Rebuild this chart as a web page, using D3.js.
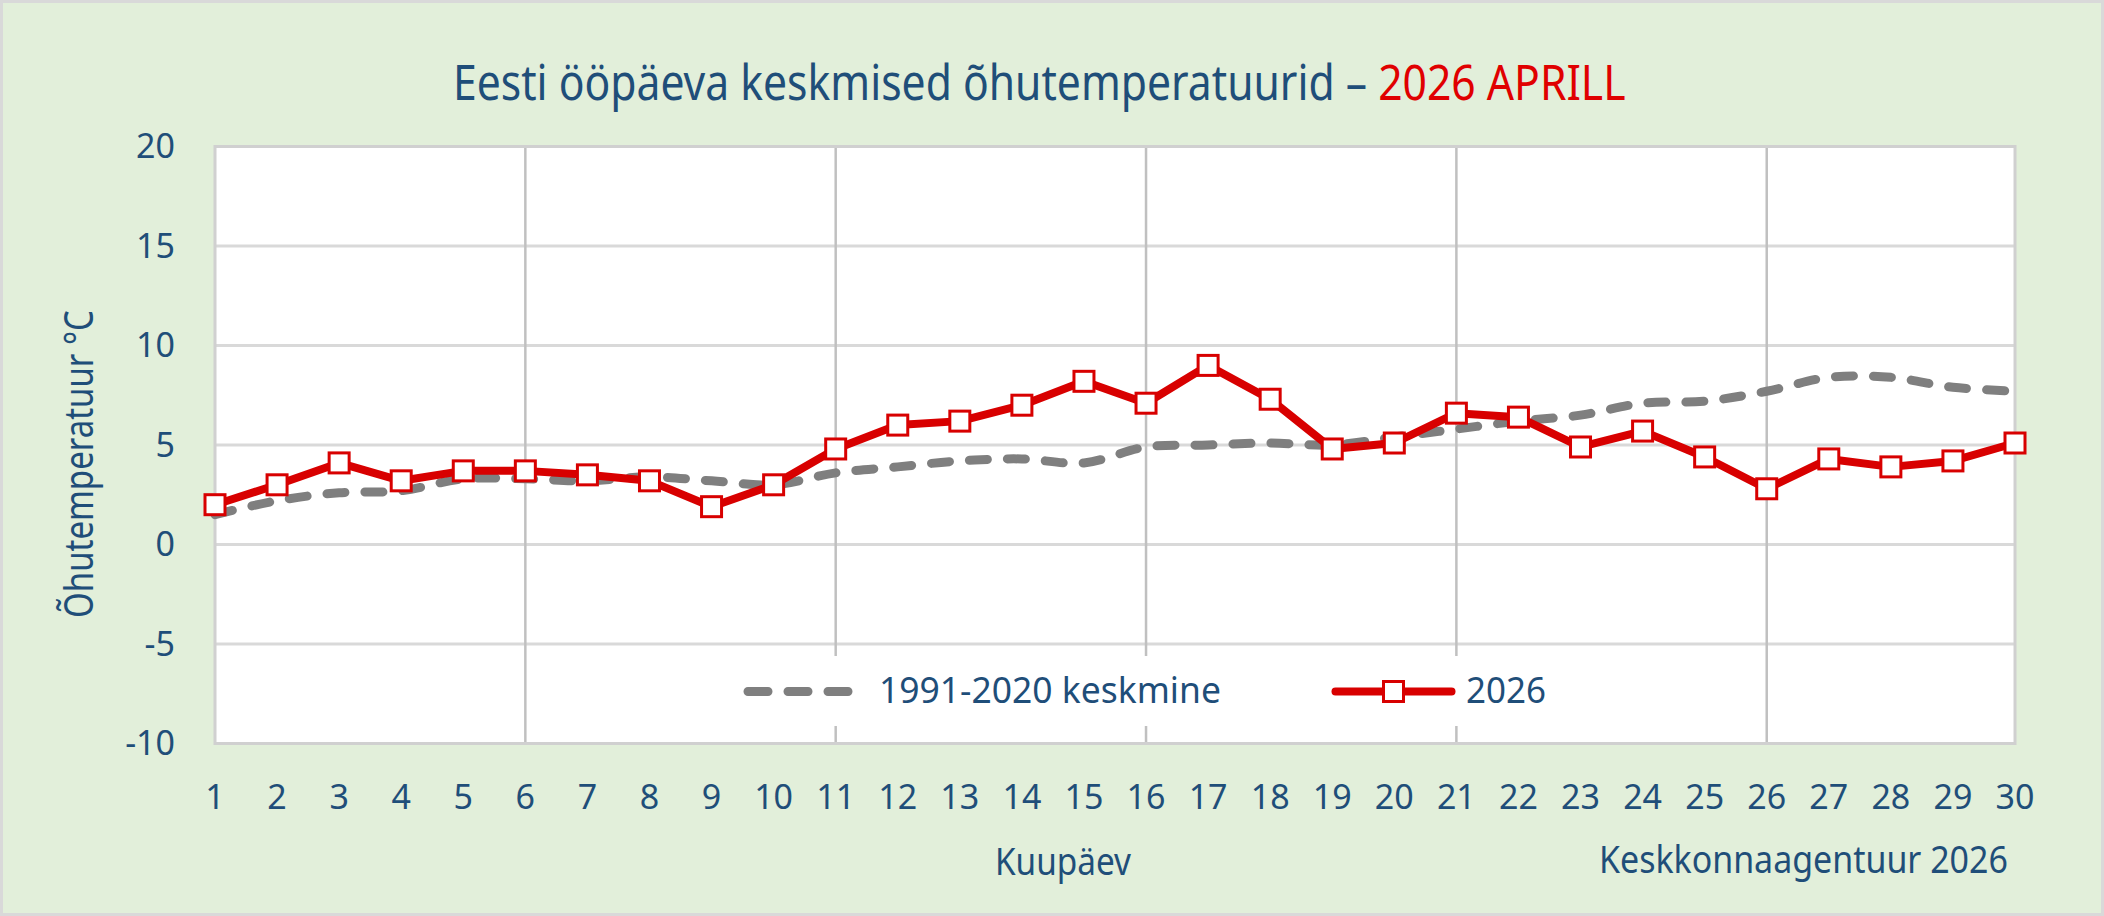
<!DOCTYPE html>
<html>
<head>
<meta charset="utf-8">
<script src="https://cdn.jsdelivr.net/npm/d3@7"></script>
<style>
  html, body { margin: 0; padding: 0; background: #fff; }
  svg { display: block; }
  text { font-family: "Noto Sans", "Open Sans", sans-serif; fill: #1f4e79; }
</style>
</head>
<body>
<svg id="chart"></svg>
<script>
// Kuupäevad (aprill)
const days = [1, 2, 3, 4, 5, 6, 7, 8, 9, 10, 11, 12, 13, 14, 15,
              16, 17, 18, 19, 20, 21, 22, 23, 24, 25, 26, 27, 28, 29, 30];

// 1991-2020 keskmine
const normal = [1.5, 2.2, 2.6, 2.7, 3.3, 3.3, 3.2, 3.4, 3.2, 3.0,
                3.6, 3.9, 4.2, 4.3, 4.1, 4.9, 5.0, 5.1, 5.0, 5.4,
                5.8, 6.2, 6.5, 7.1, 7.2, 7.7, 8.4, 8.4, 7.9, 7.7];

// 2026
const year2026 = [2.0, 3.0, 4.1, 3.2, 3.7, 3.7, 3.5, 3.2, 1.9, 3.0,
                  4.8, 6.0, 6.2, 7.0, 8.2, 7.1, 9.0, 7.3, 4.8, 5.1,
                  6.6, 6.4, 4.9, 5.7, 4.4, 2.8, 4.3, 3.9, 4.2, 5.1];

const yTicks = [-10, -5, 0, 5, 10, 15, 20];
const xGridDays = [6, 11, 16, 21, 26];

const seriesNames = ["1991-2020 keskmine", "2026"];
const titleMain = "Eesti ööpäeva keskmised õhutemperatuurid \u2013 ";
const titleRed = "2026 APRILL";

const W = 2104, H = 916;
const plot = { left: 215, right: 2015, top: 146.5, bottom: 743.5 };

const blue = "#1f4e79";
const red = "#d80000";
const grey = "#7f7f7f";

const svg = d3.select("#chart").attr("width", W).attr("height", H);

// venitab teksti kindla laiuseni
function fitText(sel, x0, width) {
    const w = sel.node().getComputedTextLength();
    const y = sel.attr("y") || 0;
    sel.attr("x", 0).attr("y", 0)
       .attr("transform", `translate(${x0},${y}) scale(${width / w},1)`);
}

// taust
svg.append("rect")
    .attr("x", 1.5).attr("y", 1.5)
    .attr("width", W - 3).attr("height", H - 3)
    .attr("fill", "#e2efda")
    .attr("stroke", "#d9d9d9").attr("stroke-width", 3);

const x = d3.scaleLinear().domain([1, 30]).range([plot.left, plot.right]);
const y = d3.scaleLinear().domain([-10, 20]).range([plot.bottom, plot.top]);

// joonise ala
svg.append("rect")
    .attr("x", plot.left).attr("y", plot.top)
    .attr("width", plot.right - plot.left).attr("height", plot.bottom - plot.top)
    .attr("fill", "#fff");

// horisontaalsed abijooned
svg.append("g").selectAll("line")
    .data(yTicks.slice(1, -1))
    .enter().append("line")
    .attr("x1", plot.left).attr("x2", plot.right)
    .attr("y1", d => y(d)).attr("y2", d => y(d))
    .attr("stroke", "#d9d9d9").attr("stroke-width", 3);

// vertikaalsed abijooned
svg.append("g").selectAll("line")
    .data(xGridDays)
    .enter().append("line")
    .attr("x1", d => x(d)).attr("x2", d => x(d))
    .attr("y1", plot.top).attr("y2", plot.bottom)
    .attr("stroke", "#c0c0c0").attr("stroke-width", 2.5);

// raam
svg.append("rect")
    .attr("x", plot.left).attr("y", plot.top)
    .attr("width", plot.right - plot.left).attr("height", plot.bottom - plot.top)
    .attr("fill", "none")
    .attr("stroke", "#d0d0d0").attr("stroke-width", 3);

// y-telg
svg.append("g").selectAll("text")
    .data(yTicks)
    .enter().append("text")
    .attr("x", 175)
    .attr("y", d => y(d))
    .attr("dy", "0.35em")
    .attr("text-anchor", "end")
    .style("font-size", "34px")
    .text(d => d);

// x-telg
svg.append("g").selectAll("text")
    .data(days)
    .enter().append("text")
    .attr("x", d => x(d))
    .attr("y", 808.5)
    .attr("text-anchor", "middle")
    .style("font-size", "34px")
    .text(d => d);

// 1991-2020 keskmine (silutud katkendjoon)
const normalLine = d3.line()
    .x((d, i) => x(days[i]))
    .y(d => y(d))
    .curve(d3.curveCatmullRom.alpha(0.5));

svg.append("path")
    .datum(normal)
    .attr("d", normalLine)
    .attr("fill", "none")
    .attr("stroke", grey)
    .attr("stroke-width", 9)
    .attr("stroke-linecap", "round")
    .attr("stroke-dasharray", "18 20");

// 2026
const yearLine = d3.line()
    .x((d, i) => x(days[i]))
    .y(d => y(d));

svg.append("path")
    .datum(year2026)
    .attr("d", yearLine)
    .attr("fill", "none")
    .attr("stroke", red)
    .attr("stroke-width", 8)
    .attr("stroke-linejoin", "round");

svg.append("g").selectAll("rect")
    .data(year2026)
    .enter().append("rect")
    .attr("x", (d, i) => x(days[i]) - 10)
    .attr("y", d => y(d) - 10)
    .attr("width", 20).attr("height", 20)
    .attr("fill", "#fff")
    .attr("stroke", red).attr("stroke-width", 3);

// legend
const legY = 691.5;
svg.append("rect")
    .attr("x", 725).attr("y", 656)
    .attr("width", 840).attr("height", 70)
    .attr("fill", "#fff");

svg.append("line")
    .attr("x1", 748).attr("x2", 850)
    .attr("y1", legY).attr("y2", legY)
    .attr("stroke", grey).attr("stroke-width", 9)
    .attr("stroke-linecap", "round")
    .attr("stroke-dasharray", "20 20");

fitText(svg.append("text")
    .attr("y", 703)
    .style("font-size", "36px")
    .text(seriesNames[0]), 879, 342);

svg.append("line")
    .attr("x1", 1335.5).attr("x2", 1451.5)
    .attr("y1", legY).attr("y2", legY)
    .attr("stroke", red).attr("stroke-width", 8)
    .attr("stroke-linecap", "round");

svg.append("rect")
    .attr("x", 1393.5 - 10).attr("y", legY - 10)
    .attr("width", 20).attr("height", 20)
    .attr("fill", "#fff")
    .attr("stroke", red).attr("stroke-width", 3);

fitText(svg.append("text")
    .attr("y", 703)
    .style("font-size", "36px")
    .text(seriesNames[1]), 1466, 80);

// pealkiri
const title = svg.append("text")
    .attr("y", 100)
    .style("font-size", "49px");
title.append("tspan").text(titleMain);
title.append("tspan").style("fill", "#e00000").text(titleRed);
fitText(title, 453, 1173);

// y-telje nimi
const yLabel = svg.append("text")
    .attr("text-anchor", "middle")
    .style("font-size", "40px")
    .text("Õhutemperatuur °C");
const yw = yLabel.node().getComputedTextLength();
yLabel.attr("transform", `translate(93,464) rotate(-90) scale(${308 / yw},1)`);

// x-telje nimi
fitText(svg.append("text")
    .attr("y", 875)
    .style("font-size", "38px")
    .text("Kuupäev"), 995, 136);

// allikas
fitText(svg.append("text")
    .attr("y", 873)
    .style("font-size", "39px")
    .text("Keskkonnaagentuur 2026"), 1599, 409);
</script>
</body>
</html>
